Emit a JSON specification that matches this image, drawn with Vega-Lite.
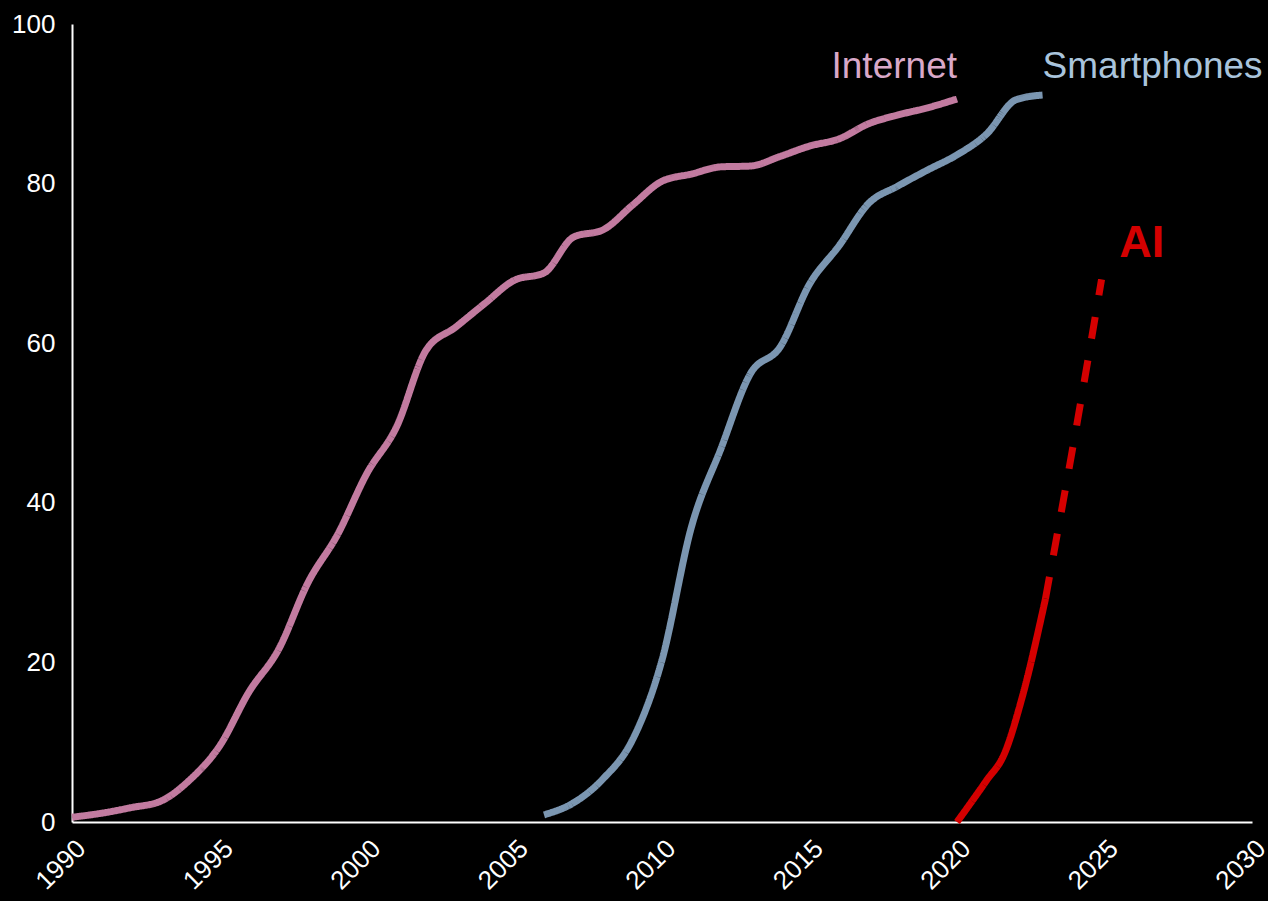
{
  "$schema": "https://vega.github.io/schema/vega-lite/v6.json",
  "autosize": "none",
  "width": 1180,
  "height": 798,
  "padding": {"left": 72, "top": 24, "right": 16, "bottom": 79},
  "background": "#000000",
  "config": {
    "view": {"stroke": null},
    "font": "Liberation Sans"
  },
  "datasets": {
    "lines": [
      {"series": "Internet", "segment": "actual", "year": 1990, "value": 0.6},
      {"series": "Internet", "segment": "actual", "year": 1991, "value": 1.1},
      {"series": "Internet", "segment": "actual", "year": 1992, "value": 1.8},
      {"series": "Internet", "segment": "actual", "year": 1993, "value": 2.6},
      {"series": "Internet", "segment": "actual", "year": 1994, "value": 5.3},
      {"series": "Internet", "segment": "actual", "year": 1995, "value": 9.5},
      {"series": "Internet", "segment": "actual", "year": 1996, "value": 16.3},
      {"series": "Internet", "segment": "actual", "year": 1997, "value": 21.6},
      {"series": "Internet", "segment": "actual", "year": 1998, "value": 30},
      {"series": "Internet", "segment": "actual", "year": 1999, "value": 36},
      {"series": "Internet", "segment": "actual", "year": 2000, "value": 43.7},
      {"series": "Internet", "segment": "actual", "year": 2001, "value": 49.5},
      {"series": "Internet", "segment": "actual", "year": 2002, "value": 59.1},
      {"series": "Internet", "segment": "actual", "year": 2003, "value": 62},
      {"series": "Internet", "segment": "actual", "year": 2004, "value": 65},
      {"series": "Internet", "segment": "actual", "year": 2005, "value": 67.9},
      {"series": "Internet", "segment": "actual", "year": 2006, "value": 68.8},
      {"series": "Internet", "segment": "actual", "year": 2007, "value": 73.3},
      {"series": "Internet", "segment": "actual", "year": 2008, "value": 74.2},
      {"series": "Internet", "segment": "actual", "year": 2009, "value": 77.3},
      {"series": "Internet", "segment": "actual", "year": 2010, "value": 80.3},
      {"series": "Internet", "segment": "actual", "year": 2011, "value": 81.2},
      {"series": "Internet", "segment": "actual", "year": 2012, "value": 82.1},
      {"series": "Internet", "segment": "actual", "year": 2013, "value": 82.2},
      {"series": "Internet", "segment": "actual", "year": 2014, "value": 83.4},
      {"series": "Internet", "segment": "actual", "year": 2015, "value": 84.7},
      {"series": "Internet", "segment": "actual", "year": 2016, "value": 85.6},
      {"series": "Internet", "segment": "actual", "year": 2017, "value": 87.5},
      {"series": "Internet", "segment": "actual", "year": 2018, "value": 88.6},
      {"series": "Internet", "segment": "actual", "year": 2019, "value": 89.5},
      {"series": "Internet", "segment": "actual", "year": 2020, "value": 90.6},
      {"series": "Smartphones", "segment": "actual", "year": 2006, "value": 0.9},
      {"series": "Smartphones", "segment": "actual", "year": 2007, "value": 2.4},
      {"series": "Smartphones", "segment": "actual", "year": 2008, "value": 5.4},
      {"series": "Smartphones", "segment": "actual", "year": 2009, "value": 10.3},
      {"series": "Smartphones", "segment": "actual", "year": 2010, "value": 20.3},
      {"series": "Smartphones", "segment": "actual", "year": 2011, "value": 37},
      {"series": "Smartphones", "segment": "actual", "year": 2012, "value": 46.8},
      {"series": "Smartphones", "segment": "actual", "year": 2013, "value": 56.2},
      {"series": "Smartphones", "segment": "actual", "year": 2014, "value": 59.5},
      {"series": "Smartphones", "segment": "actual", "year": 2015, "value": 67.4},
      {"series": "Smartphones", "segment": "actual", "year": 2016, "value": 72.2},
      {"series": "Smartphones", "segment": "actual", "year": 2017, "value": 77.5},
      {"series": "Smartphones", "segment": "actual", "year": 2018, "value": 79.7},
      {"series": "Smartphones", "segment": "actual", "year": 2019, "value": 81.7},
      {"series": "Smartphones", "segment": "actual", "year": 2020, "value": 83.6},
      {"series": "Smartphones", "segment": "actual", "year": 2021, "value": 86.2},
      {"series": "Smartphones", "segment": "actual", "year": 2022, "value": 90.5},
      {"series": "Smartphones", "segment": "actual", "year": 2022.9, "value": 91.1},
      {"series": "AI", "segment": "actual", "year": 2020, "value": 0},
      {"series": "AI", "segment": "actual", "year": 2021, "value": 5.2},
      {"series": "AI", "segment": "actual", "year": 2021.6, "value": 8.5},
      {"series": "AI", "segment": "actual", "year": 2022.2, "value": 15.5},
      {"series": "AI", "segment": "actual", "year": 2023, "value": 28},
      {"series": "AI", "segment": "projected", "year": 2023, "value": 28},
      {"series": "AI", "segment": "projected", "year": 2024, "value": 48.5},
      {"series": "AI", "segment": "projected", "year": 2024.9, "value": 68}
    ]
  },
  "layer": [
    {
      "data": {"name": "lines"},
      "mark": {"type": "line", "interpolate": "monotone", "strokeWidth": 7, "strokeCap": "butt"},
      "encoding": {
        "x": {
          "field": "year", "type": "quantitative",
          "scale": {"domain": [1990, 2030], "nice": false, "zero": false},
          "axis": {
            "title": null, "values": [1990, 1995, 2000, 2005, 2010, 2015, 2020, 2025, 2030],
            "format": "d", "labelAngle": -45, "labelAlign": "right", "labelBaseline": "middle",
            "labelFontSize": 26, "labelColor": "#ffffff", "labelPadding": 22, "labelOffset": 9,
            "labelFont": "Liberation Sans", "labelOverlap": false, "labelFlush": false,
            "domainColor": "#ffffff", "domainWidth": 2, "ticks": false, "grid": false
          }
        },
        "y": {
          "field": "value", "type": "quantitative",
          "scale": {"domain": [0, 100], "nice": false},
          "axis": {
            "title": null, "values": [0, 20, 40, 60, 80, 100],
            "labelFontSize": 26, "labelColor": "#ffffff", "labelPadding": 17,
            "labelFont": "Liberation Sans", "labelOverlap": false, "labelFlush": false,
            "domainColor": "#ffffff", "domainWidth": 2, "ticks": false, "grid": false
          }
        },
        "color": {
          "field": "series", "type": "nominal",
          "scale": {"domain": ["Internet", "Smartphones", "AI"], "range": ["#c27ba0", "#7b96b1", "#d40000"]},
          "legend": null
        },
        "strokeDash": {
          "field": "segment", "type": "nominal",
          "scale": {"domain": ["actual", "projected"], "range": [[1, 0], [22, 22]]},
          "legend": null
        }
      }
    },
    {
      "data": {"values": [{"label": "Internet", "year": 2020, "value": 93.2}]},
      "mark": {"type": "text", "align": "right", "baseline": "alphabetic", "fontSize": 37, "color": "#d9a8c8", "font": "Liberation Sans"},
      "encoding": {
        "x": {"field": "year", "type": "quantitative"},
        "y": {"field": "value", "type": "quantitative"},
        "text": {"field": "label"}
      }
    },
    {
      "data": {"values": [{"label": "Smartphones", "year": 2022.9, "value": 93.2}]},
      "mark": {"type": "text", "align": "left", "baseline": "alphabetic", "fontSize": 37, "color": "#a9c4dc", "font": "Liberation Sans"},
      "encoding": {
        "x": {"field": "year", "type": "quantitative"},
        "y": {"field": "value", "type": "quantitative"},
        "text": {"field": "label"}
      }
    },
    {
      "data": {"values": [{"label": "AI", "year": 2025.5, "value": 70.8}]},
      "mark": {"type": "text", "align": "left", "baseline": "alphabetic", "fontSize": 45, "fontWeight": "bold", "color": "#d40000", "font": "Liberation Sans"},
      "encoding": {
        "x": {"field": "year", "type": "quantitative"},
        "y": {"field": "value", "type": "quantitative"},
        "text": {"field": "label"}
      }
    }
  ]
}
